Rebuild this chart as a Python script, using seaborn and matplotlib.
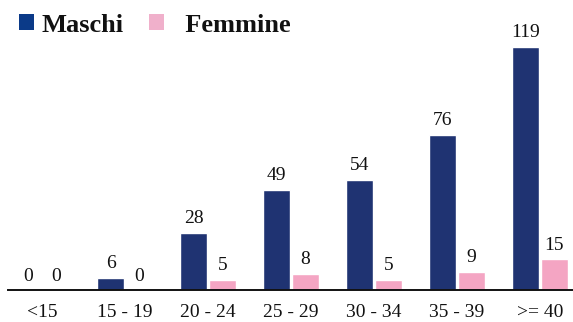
import matplotlib
matplotlib.use("Agg")
import matplotlib.pyplot as plt
import seaborn as sns
import pandas as pd
from matplotlib.patches import Patch

categories = ["<15", "15 - 19", "20 - 24", "25 - 29", "30 - 34", "35 - 39", ">= 40"]
maschi = [0, 6, 28, 49, 54, 76, 119]
femmine = [0, 0, 5, 8, 5, 9, 15]
series = ["Maschi", "Femmine"]

df = pd.DataFrame({
    "classe": categories * 2,
    "valore": maschi + femmine,
    "sesso": [series[0]] * len(categories) + [series[1]] * len(categories),
})

sns.set_theme(style="white")
plt.rcParams["font.family"] = ["Liberation Serif", "DejaVu Serif"]

colors = {"Maschi": "#1f3372", "Femmine": "#f4a5c3"}

fig = plt.figure(figsize=(5.73, 3.22), dpi=100)
ax = fig.add_axes([0.014, 0.099, 0.986, 0.901])

sns.barplot(data=df, x="classe", y="valore", hue="sesso", order=categories,
            hue_order=series, palette=colors, width=0.69, gap=0.06,
            saturation=1, legend=False, ax=ax)

for cont in ax.containers:
    ax.bar_label(cont, fmt="%d", padding=4, fontsize=14, color="#111111")

ax.set_xlim(-0.41, 6.4)
ax.set_ylim(0, 142)
ax.set_xlabel("")
ax.set_ylabel("")
ax.set_yticks([])
ax.tick_params(axis="x", length=0, pad=10, labelsize=14, colors="#111111")
for s in ["top", "right", "left"]:
    ax.spines[s].set_visible(False)
ax.spines["bottom"].set_color("#111111")
ax.spines["bottom"].set_linewidth(1.4)

handles = [Patch(facecolor="#0b3a88", edgecolor="none"),
           Patch(facecolor="#f0b0cb", edgecolor="none")]
labels = [series[0], "  " + series[1]]
leg = fig.legend(handles, labels, loc="center left", bbox_to_anchor=(0.033, 0.922),
                 ncol=2, frameon=False, borderpad=0, borderaxespad=0,
                 handlelength=0.57, handleheight=0.57,
                 handletextpad=0.3, columnspacing=0.95,
                 prop={"family": "Liberation Serif", "weight": "bold", "size": 19})
for t in leg.get_texts():
    t.set_color("#111111")

fig.savefig("out.png", dpi=100)
